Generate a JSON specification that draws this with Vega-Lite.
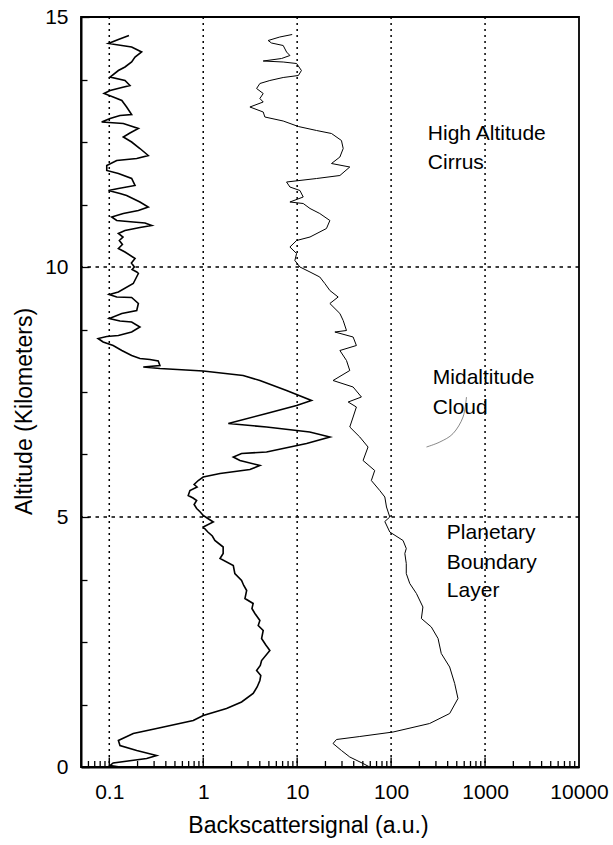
{
  "$schema": "https://vega.github.io/schema/vega-lite/v6.json",
  "width": 498,
  "height": 750,
  "autosize": {"type": "none"},
  "padding": {"left": 81, "top": 17, "right": 34, "bottom": 78},
  "background": "white",
  "config": {
    "font": "Liberation Sans",
    "view": {"stroke": "black", "strokeWidth": 1.8}
  },
  "layer": [
    {
      "data": {"values": [{"v": 0.1}, {"v": 1}, {"v": 10}, {"v": 100}, {"v": 1000}]},
      "mark": {"type": "rule", "color": "black", "strokeWidth": 1.5, "strokeDash": [2, 4]},
      "encoding": {
        "x": {
          "field": "v", "type": "quantitative",
          "scale": {"type": "log", "domain": [0.05, 10000], "nice": false},
          "axis": {
            "values": [0.1, 1, 10, 100, 1000, 10000],
            "labelExpr": "datum.value == 0.1 ? '0.1' : format(datum.value, 'd')",
            "labelOverlap": false,
            "labelFlush": false,
            "labelFontSize": 21,
            "labelColor": "black",
            "labelPadding": 14,
            "ticks": false,
            "grid": false,
            "domainColor": "black",
            "domainWidth": 2,
            "title": "Backscattersignal (a.u.)",
            "titleFontSize": 23,
            "titleFontWeight": "normal",
            "titleColor": "black",
            "titleX": 227,
            "titleY": 58,
            "titleAlign": "center",
            "titleBaseline": "middle"
          }
        }
      }
    },
    {
      "data": {"values": [{"v":0.06},{"v":0.07},{"v":0.08},{"v":0.09},{"v":0.2},{"v":0.3},{"v":0.4},{"v":0.5},{"v":0.6},{"v":0.7},{"v":0.8},{"v":0.9},{"v":2},{"v":3},{"v":4},{"v":5},{"v":6},{"v":7},{"v":8},{"v":9},{"v":20},{"v":30},{"v":40},{"v":50},{"v":60},{"v":70},{"v":80},{"v":90},{"v":200},{"v":300},{"v":400},{"v":500},{"v":600},{"v":700},{"v":800},{"v":900},{"v":2000},{"v":3000},{"v":4000},{"v":5000},{"v":6000},{"v":7000},{"v":8000},{"v":9000}]},
      "mark": {"type": "rule", "color": "black", "strokeWidth": 1.3},
      "encoding": {
        "x": {"field": "v", "type": "quantitative"},
        "y": {"datum": 0, "type": "quantitative"},
        "y2": {"datum": 0.12}
      }
    },
    {
      "data": {"values": [{"v": 0.1}, {"v": 1}, {"v": 10}, {"v": 100}, {"v": 1000}]},
      "mark": {"type": "rule", "color": "black", "strokeWidth": 1.4},
      "encoding": {
        "x": {"field": "v", "type": "quantitative"},
        "y": {"datum": 0, "type": "quantitative"},
        "y2": {"datum": 0.19}
      }
    },
    {
      "data": {"values": [{"a": 5}, {"a": 10}]},
      "mark": {"type": "rule", "color": "black", "strokeWidth": 1.5, "strokeDash": [3.5, 4.5]},
      "encoding": {
        "y": {
          "field": "a", "type": "quantitative",
          "scale": {"domain": [0, 15], "nice": false},
          "axis": {
            "values": [0,1.25,2.5,3.75,5,6.25,7.5,8.75,10,11.25,12.5,13.75,15],
            "labelExpr": "datum.value % 5 == 0 ? format(datum.value, 'd') : ''",
            "labelOverlap": false,
            "labelFlush": false,
            "labelFontSize": 21,
            "labelColor": "black",
            "labelPadding": 21,
            "tickSize": {"condition": {"test": "datum.value % 5 == 0", "value": -8}, "value": -6},
            "tickWidth": 1.3,
            "tickColor": "black",
            "grid": false,
            "domainColor": "black",
            "domainWidth": 2,
            "title": "Altitude (Kilometers)",
            "titleFontSize": 23,
            "titleFontWeight": "normal",
            "titleColor": "black",
            "titleX": -57,
            "titleY": 394,
            "titleAlign": "center",
            "titleBaseline": "middle",
            "titleAngle": -90
          }
        }
      }
    },
    {
      "data": {"values": [
        {"a":14.63,"v":0.162},{"a":14.55,"v":0.125},{"a":14.47,"v":0.098},{"a":14.40,"v":0.173},{"a":14.30,"v":0.221},{"a":14.20,"v":0.188},{"a":14.10,"v":0.173},{"a":14.00,"v":0.147},{"a":13.93,"v":0.125},{"a":13.80,"v":0.102},{"a":13.73,"v":0.147},{"a":13.63,"v":0.166},{"a":13.59,"v":0.136},{"a":13.53,"v":0.102},{"a":13.47,"v":0.088},{"a":13.40,"v":0.110},{"a":13.33,"v":0.136},{"a":13.20,"v":0.153},{"a":13.05,"v":0.173},{"a":13.03,"v":0.130},{"a":12.97,"v":0.102},{"a":12.90,"v":0.083},{"a":12.87,"v":0.141},{"a":12.77,"v":0.204},{"a":12.68,"v":0.166},{"a":12.60,"v":0.141},{"a":12.50,"v":0.173},{"a":12.37,"v":0.212},{"a":12.23,"v":0.260},{"a":12.17,"v":0.196},{"a":12.13,"v":0.120},{"a":12.03,"v":0.094},{"a":11.93,"v":0.094},{"a":11.87,"v":0.125},{"a":11.77,"v":0.173},{"a":11.63,"v":0.188},{"a":11.57,"v":0.125},{"a":11.53,"v":0.098},{"a":11.47,"v":0.130},{"a":11.43,"v":0.153},{"a":11.30,"v":0.212},{"a":11.20,"v":0.260},{"a":11.13,"v":0.204},{"a":11.07,"v":0.141},{"a":11.00,"v":0.106},{"a":10.93,"v":0.120},{"a":10.90,"v":0.180},{"a":10.88,"v":0.240},{"a":10.83,"v":0.283},{"a":10.79,"v":0.212},{"a":10.73,"v":0.147},{"a":10.67,"v":0.125},{"a":10.60,"v":0.140},{"a":10.53,"v":0.128},{"a":10.45,"v":0.138},{"a":10.37,"v":0.125},{"a":10.30,"v":0.147},{"a":10.17,"v":0.188},{"a":10.08,"v":0.172},{"a":10.00,"v":0.185},{"a":9.95,"v":0.175},{"a":9.90,"v":0.196},{"a":9.87,"v":0.204},{"a":9.67,"v":0.180},{"a":9.50,"v":0.125},{"a":9.45,"v":0.100},{"a":9.40,"v":0.120},{"a":9.39,"v":0.173},{"a":9.27,"v":0.204},{"a":9.13,"v":0.196},{"a":9.07,"v":0.136},{"a":8.97,"v":0.100},{"a":8.92,"v":0.130},{"a":8.90,"v":0.173},{"a":8.80,"v":0.212},{"a":8.70,"v":0.173},{"a":8.63,"v":0.125},{"a":8.61,"v":0.094},{"a":8.57,"v":0.076},{"a":8.50,"v":0.086},{"a":8.43,"v":0.110},{"a":8.33,"v":0.136},{"a":8.23,"v":0.173},{"a":8.17,"v":0.212},{"a":8.15,"v":0.271},{"a":8.12,"v":0.332},{"a":8.03,"v":0.346},{"a":8.00,"v":0.230},{"a":7.97,"v":0.346},{"a":7.92,"v":1.0},{"a":7.83,"v":2.66},{"a":7.73,"v":4.01},{"a":7.53,"v":7.71},{"a":7.33,"v":14.2},{"a":7.23,"v":9.86},{"a":7.07,"v":4.72},{"a":6.87,"v":1.85},{"a":6.80,"v":4.72},{"a":6.70,"v":13.6},{"a":6.60,"v":22.3},{"a":6.47,"v":12.6},{"a":6.30,"v":4.72},{"a":6.27,"v":2.56},{"a":6.20,"v":2.09},{"a":6.13,"v":2.46},{"a":6.03,"v":4.01},{"a":5.95,"v":3.14},{"a":5.87,"v":1.51},{"a":5.80,"v":1.0},{"a":5.73,"v":0.885},{"a":5.65,"v":0.80},{"a":5.60,"v":0.86},{"a":5.53,"v":0.722},{"a":5.43,"v":0.692},{"a":5.38,"v":0.78},{"a":5.33,"v":0.851},{"a":5.25,"v":0.80},{"a":5.17,"v":0.851},{"a":5.10,"v":0.93},{"a":5.03,"v":1.0},{"a":4.97,"v":1.12},{"a":4.90,"v":1.28},{"a":4.80,"v":1.0},{"a":4.70,"v":1.12},{"a":4.62,"v":1.25},{"a":4.53,"v":1.33},{"a":4.40,"v":1.63},{"a":4.27,"v":1.63},{"a":4.17,"v":1.51},{"a":4.03,"v":2.09},{"a":3.87,"v":2.17},{"a":3.73,"v":2.56},{"a":3.63,"v":2.70},{"a":3.53,"v":2.90},{"a":3.37,"v":2.78},{"a":3.27,"v":3.40},{"a":3.17,"v":3.30},{"a":3.07,"v":3.55},{"a":2.93,"v":4.01},{"a":2.83,"v":3.85},{"a":2.73,"v":4.35},{"a":2.57,"v":4.18},{"a":2.45,"v":4.60},{"a":2.33,"v":5.12},{"a":2.13,"v":4.18},{"a":2.03,"v":4.05},{"a":1.93,"v":3.70},{"a":1.83,"v":4.10},{"a":1.73,"v":4.01},{"a":1.60,"v":3.75},{"a":1.47,"v":3.40},{"a":1.30,"v":2.56},{"a":1.17,"v":1.77},{"a":1.03,"v":1.0},{"a":0.93,"v":0.783},{"a":0.77,"v":0.319},{"a":0.67,"v":0.180},{"a":0.53,"v":0.125},{"a":0.43,"v":0.130},{"a":0.33,"v":0.196},{"a":0.23,"v":0.319},{"a":0.17,"v":0.250},{"a":0.08,"v":0.110},{"a":0.03,"v":0.102},{"a":0.0,"v":0.13}
      ]},
      "mark": {"type": "line", "color": "black", "strokeWidth": 1.6},
      "encoding": {
        "x": {"field": "v", "type": "quantitative"},
        "y": {"field": "a", "type": "quantitative"},
        "order": {"value": null}
      }
    },
    {
      "data": {"values": [
        {"a":14.65,"v":8.85},{"a":14.60,"v":6.53},{"a":14.53,"v":4.91},{"a":14.48,"v":5.33},{"a":14.43,"v":7.10},{"a":14.30,"v":7.71},{"a":14.23,"v":8.37},{"a":14.17,"v":6.82},{"a":14.12,"v":4.35},{"a":14.10,"v":7.10},{"a":14.07,"v":9.86},{"a":13.93,"v":11.1},{"a":13.83,"v":10.3},{"a":13.79,"v":7.10},{"a":13.73,"v":5.12},{"a":13.67,"v":4.01},{"a":13.57,"v":3.70},{"a":13.47,"v":4.35},{"a":13.37,"v":4.01},{"a":13.30,"v":4.35},{"a":13.20,"v":3.14},{"a":13.10,"v":4.35},{"a":13.00,"v":4.53},{"a":12.92,"v":7.10},{"a":12.81,"v":10.3},{"a":12.73,"v":16.1},{"a":12.67,"v":23.2},{"a":12.53,"v":29.6},{"a":12.37,"v":30.9},{"a":12.20,"v":28.5},{"a":12.07,"v":23.2},{"a":12.00,"v":36.3},{"a":11.83,"v":28.5},{"a":11.77,"v":16.1},{"a":11.70,"v":7.71},{"a":11.60,"v":8.37},{"a":11.53,"v":10.7},{"a":11.40,"v":11.6},{"a":11.30,"v":8.37},{"a":11.27,"v":11.6},{"a":11.17,"v":13.7},{"a":11.07,"v":17.4},{"a":10.93,"v":22.3},{"a":10.77,"v":20.5},{"a":10.60,"v":13.7},{"a":10.53,"v":9.86},{"a":10.40,"v":8.37},{"a":10.27,"v":9.86},{"a":10.13,"v":9.45},{"a":10.00,"v":10.7},{"a":9.90,"v":13.7},{"a":9.80,"v":17.4},{"a":9.67,"v":19.7},{"a":9.53,"v":22.3},{"a":9.40,"v":27.3},{"a":9.27,"v":22.3},{"a":9.07,"v":28.5},{"a":8.93,"v":30.9},{"a":8.73,"v":33.5},{"a":8.70,"v":25.2},{"a":8.60,"v":39.4},{"a":8.43,"v":42.7},{"a":8.33,"v":28.5},{"a":8.13,"v":33.5},{"a":7.93,"v":36.3},{"a":7.73,"v":24.1},{"a":7.60,"v":39.4},{"a":7.40,"v":48.3},{"a":7.30,"v":34.9},{"a":7.20,"v":42.7},{"a":7.00,"v":39.4},{"a":6.80,"v":36.3},{"a":6.60,"v":46.4},{"a":6.40,"v":56.8},{"a":6.13,"v":50.3},{"a":5.93,"v":66.9},{"a":5.73,"v":61.6},{"a":5.53,"v":75.7},{"a":5.40,"v":85.7},{"a":5.20,"v":89.3},{"a":5.00,"v":96.8},{"a":4.91,"v":85.7},{"a":4.70,"v":96.8},{"a":4.53,"v":134},{"a":4.37,"v":145},{"a":4.27,"v":140},{"a":4.07,"v":145},{"a":3.87,"v":145},{"a":3.67,"v":158},{"a":3.47,"v":186},{"a":3.20,"v":218},{"a":2.97,"v":210},{"a":2.80,"v":268},{"a":2.57,"v":316},{"a":2.27,"v":342},{"a":2.00,"v":420},{"a":1.67,"v":475},{"a":1.37,"v":515},{"a":1.07,"v":420},{"a":0.87,"v":257},{"a":0.70,"v":105},{"a":0.61,"v":46.4},{"a":0.55,"v":26.2},{"a":0.47,"v":24.1},{"a":0.33,"v":29.6},{"a":0.20,"v":36.3},{"a":0.07,"v":50.3},{"a":0.0,"v":59.2}
      ]},
      "mark": {"type": "line", "color": "black", "strokeWidth": 1},
      "encoding": {
        "x": {"field": "v", "type": "quantitative"},
        "y": {"field": "a", "type": "quantitative"},
        "order": {"value": null}
      }
    },
    {
      "data": {"values": [
        {"a":7.40,"v":634},{"a":7.00,"v":583},{"a":6.67,"v":457},{"a":6.50,"v":330},{"a":6.40,"v":238}
      ]},
      "mark": {"type": "line", "color": "#555555", "strokeWidth": 0.7, "interpolate": "cardinal"},
      "encoding": {
        "x": {"field": "v", "type": "quantitative"},
        "y": {"field": "a", "type": "quantitative"},
        "order": {"value": null}
      }
    },
    {
      "data": {"values": [
        {"t":"High Altitude","v":246,"a":12.67},
        {"t":"Cirrus","v":246,"a":12.09},
        {"t":"Midaltitude","v":278,"a":7.79},
        {"t":"Cloud","v":278,"a":7.19},
        {"t":"Planetary","v":392,"a":4.69},
        {"t":"Boundary","v":392,"a":4.09},
        {"t":"Layer","v":392,"a":3.53}
      ]},
      "mark": {"type": "text", "align": "left", "baseline": "middle", "fontSize": 21, "color": "black", "font": "Liberation Sans"},
      "encoding": {
        "x": {"field": "v", "type": "quantitative"},
        "y": {"field": "a", "type": "quantitative"},
        "text": {"field": "t"}
      }
    }
  ]
}
